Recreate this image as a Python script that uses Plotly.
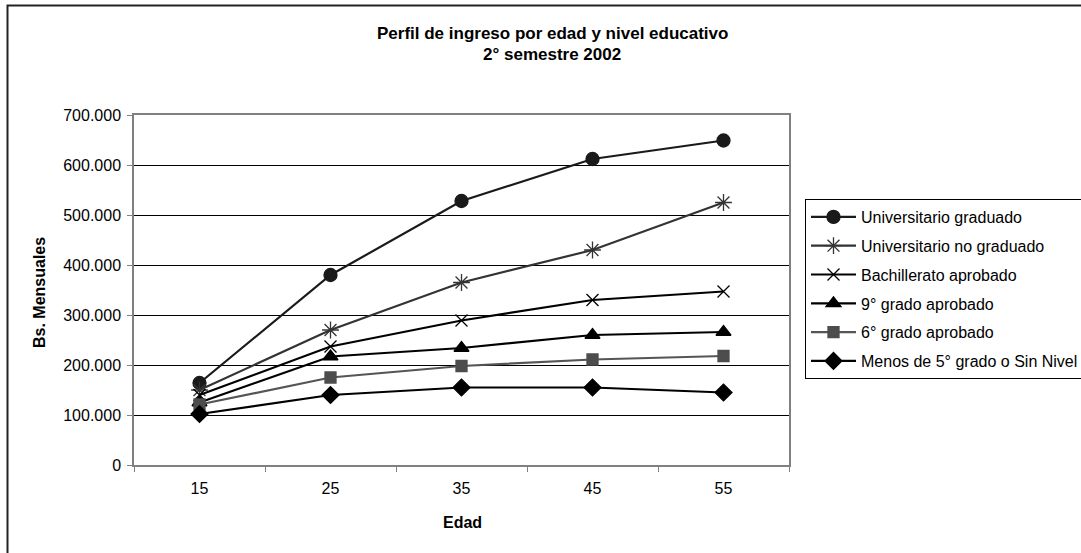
import plotly.graph_objects as go

edades = ["15", "25", "35", "45", "55"]
univ_graduado = [164000, 380000, 528000, 612000, 649000]
univ_no_graduado = [150000, 270000, 365000, 430000, 525000]
bachillerato = [140000, 237000, 289000, 330000, 347000]
grado9 = [125000, 217000, 234000, 260000, 266000]
grado6 = [121000, 175000, 198000, 211000, 218000]
menos5 = [102000, 140000, 155000, 155000, 145000]

series = [
    ("Universitario graduado", univ_graduado, "circle", 13, "#1a1a1a", "#1a1a1a"),
    ("Universitario no graduado", univ_no_graduado, "asterisk-open", 14, "#333333", "#333333"),
    ("Bachillerato aprobado", bachillerato, "x-thin-open", 12, "#000000", "#000000"),
    ("9° grado aprobado", grado9, "triangle-up", 13, "#000000", "#000000"),
    ("6° grado aprobado", grado6, "square", 11, "#4d4d4d", "#555555"),
    ("Menos de 5° grado o Sin Nivel", menos5, "diamond", 13, "#000000", "#000000"),
]

fig = go.Figure()
for i, (name, vals, sym, size, mcol, lcol) in enumerate(series):
    fig.add_trace(go.Scatter(
        x=edades, y=vals, name=name, mode="lines+markers",
        line=dict(color=lcol, width=2.2),
        marker=dict(symbol=sym, size=size, color=mcol,
                    line=dict(color=mcol, width=1.3)),
        legendgroup=f"g{i}",
    ))

font = "Liberation Sans, Arial, sans-serif"
FS = 16
W, H = 1081, 553
L, R, T, B = 134, 1081 - 789, 115, 553 - 465
pw, ph = W - L - R, H - T - B


def px_x(x):
    return (x - L) / pw


def px_y(y):
    return (H - B - y) / ph


def label(text, x, y, size=FS, angle=0):
    return dict(text=text, x=px_x(x), y=px_y(y), xref="paper", yref="paper",
                xanchor="center", yanchor="middle", showarrow=False,
                textangle=angle, font=dict(size=size, family=font))


fig.update_layout(
    width=W, height=H,
    margin=dict(l=L, r=R, t=T, b=B, autoexpand=False),
    paper_bgcolor="white", plot_bgcolor="white",
    separators=",.",
    font=dict(family=font, size=FS, color="black"),
    showlegend=True,
    legend=dict(x=px_x(805), y=px_y(199), xanchor="left", yanchor="top",
                bordercolor="black", borderwidth=1, bgcolor="white",
                font=dict(size=FS, family=font), itemwidth=45,
                tracegroupgap=5),
    xaxis=dict(type="category", range=[-0.5, 4.5], showgrid=False,
               showline=True, linecolor="#808080", linewidth=1.5, mirror=True,
               ticks="outside", tickson="boundaries", ticklen=5,
               tickcolor="#808080", ticklabelstandoff=8,
               tickfont=dict(size=FS, family=font)),
    yaxis=dict(range=[0, 700000], dtick=100000, tickformat=",d",
               showgrid=True, gridcolor="black", gridwidth=1,
               showline=True, linecolor="#808080", linewidth=1.5, mirror=True,
               ticks="outside", ticklen=5, tickcolor="#808080",
               ticklabelstandoff=3,
               zeroline=False, tickfont=dict(size=FS, family=font)),
    annotations=[
        label("<b>Perfil de ingreso por edad y nivel educativo</b>", 552, 33, 17),
        label("<b>2° semestre 2002</b>", 552, 55, 17),
        label("<b>Edad</b>", 462, 522),
        label("<b>Bs. Mensuales</b>", 39, 293, angle=-90),
    ],
    shapes=[dict(type="rect", xref="paper", yref="paper",
                 x0=px_x(7.5), x1=px_x(1100), y0=px_y(600), y1=px_y(5.5),
                 line=dict(color="#222222", width=2))],
)

fig.write_html("out.html", config={"displayModeBar": False},
               post_script="document.body.style.margin='0';")
